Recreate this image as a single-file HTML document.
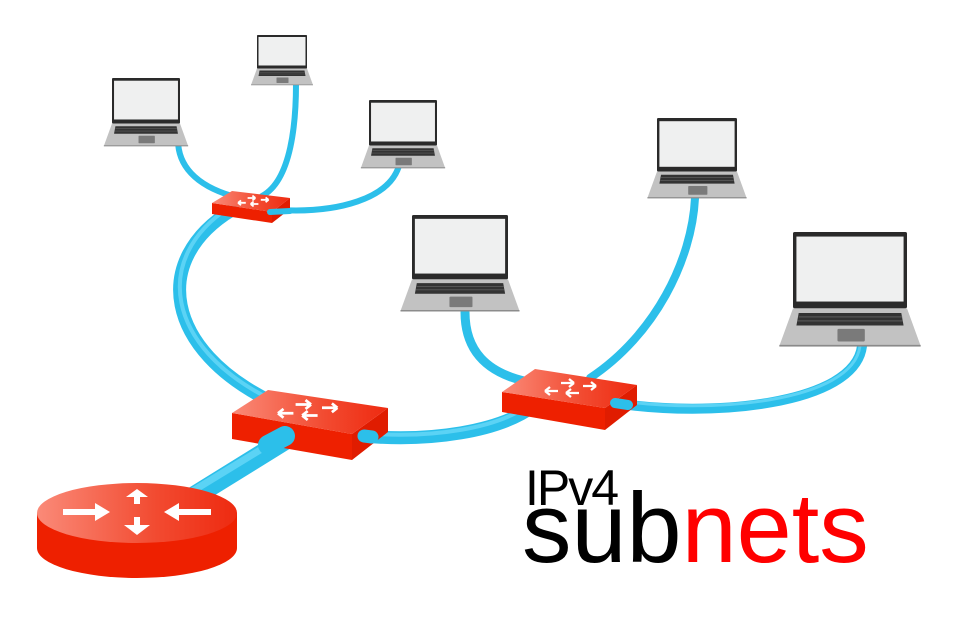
<!DOCTYPE html>
<html><head><meta charset="utf-8"><style>html,body{margin:0;padding:0;background:#fff}svg{display:block}</style></head>
<body>
<svg width="960" height="640" viewBox="0 0 960 640" xmlns="http://www.w3.org/2000/svg">
<defs>
<linearGradient id="rg" x1="0" x2="1" y1="0" y2="0"><stop offset="0" stop-color="#fa8a78"/><stop offset="0.6" stop-color="#f24a30"/><stop offset="1" stop-color="#ee2a10"/></linearGradient>
<g id="lap">
  <rect x="0" y="0" width="100" height="67" fill="#2a2a2a" rx="1.5"/>
  <rect x="3" y="4" width="94" height="57" fill="#eff0f0"/>
  <polygon points="0,67 100,67 112,100 -12,100" fill="#c2c2c2"/>
  <rect x="-12" y="99" width="124" height="1.5" fill="#8a8a8a"/>
  <polygon points="5,71 95,71 97,82 3,82" fill="#333"/>
  <g stroke="#777" stroke-width="0.6">
    <line x1="5" y1="74.5" x2="96" y2="74.5"/><line x1="4" y1="78" x2="96" y2="78"/>
  </g>
  <rect x="39" y="85" width="24" height="11" fill="#7a7a7a" rx="1"/>
</g>
</defs>

<!-- cables -->
<g fill="none" stroke-linecap="round">
  <g stroke="#2cbfea">
    <path d="M180,505 L285,440" stroke-width="20"/>
    <path d="M272,402 C165,350 150,260 232,210" stroke-width="13"/>
    <path d="M362,436 C430,442 500,432 535,405" stroke-width="13"/>
    <path d="M615,403 C710,418 855,405 862,346" stroke-width="10"/>
    <path d="M548,385 C480,378 465,345 465,312" stroke-width="9"/>
    <path d="M590,378 C655,335 692,260 695,198" stroke-width="8"/>
    <path d="M232,196 C195,185 178,165 178,140" stroke-width="6"/>
    <path d="M262,196 C292,180 296,120 296,84" stroke-width="6"/>
    <path d="M280,210 C335,213 392,200 400,162" stroke-width="6"/>
  </g>
  <g stroke="#6fdcfa" opacity="0.7">
    <path d="M178,500 L283,436" stroke-width="7"/>
    <path d="M270,399 C166,347 151,258 230,207" stroke-width="4"/>
    <path d="M362,433 C430,439 500,429 533,402" stroke-width="4"/>
    <path d="M615,400 C710,415 853,402 860,346" stroke-width="3"/>
  </g>
</g>

<!-- router -->
<path d="M37,513 L37,548 A100,30 0 0 0 237,548 L237,513 Z" fill="#ee2000"/>
<ellipse cx="137" cy="513" rx="100" ry="30" fill="url(#rg)"/>
<g fill="#fff">
  <polygon points="63,509 95,509 95,503 110,512 95,521 95,515 63,515"/>
  <polygon points="211,509 179,509 179,503 164,512 179,521 179,515 211,515"/>
  <polygon points="134,504 134,497 126,497 137,489 148,497 140,497 140,504"/>
  <polygon points="134,517 134,525 124,525 137,535 150,525 140,525 140,517"/>
</g>

<!-- switch big S2 -->
<polygon points="232,413 352,434 352,460 232,439" fill="#ee2000"/>
<polygon points="352,434 388,408 388,432 352,460" fill="#e01c00"/>
<polygon points="232,413 268,390 388,408 352,434" fill="url(#rg)"/>
<g transform="translate(300,410) scale(1.1)" fill="none" stroke="#fff" stroke-width="2.5">
  <path d="M-20,3 h14 M-20,3 l5,-4 M-20,3 l5,4"/>
  <path d="M-4,-5 h14 M10,-5 l-5,-4 M10,-5 l-5,4"/>
  <path d="M2,5 h14 M2,5 l5,-4 M2,5 l5,4"/>
  <path d="M20,-2 h14 M34,-2 l-5,-4 M34,-2 l-5,4"/>
</g>

<!-- switch S3 -->
<polygon points="502,392 605,408 605,430 502,412" fill="#ee2000"/>
<polygon points="605,408 637,385 637,405 605,430" fill="#e01c00"/>
<polygon points="502,392 535,369 637,385 605,408" fill="url(#rg)"/>
<g transform="translate(565,388)" fill="none" stroke="#fff" stroke-width="2.3">
  <path d="M-20,3 h13 M-20,3 l5,-4 M-20,3 l5,4"/>
  <path d="M-4,-5 h13 M9,-5 l-5,-4 M9,-5 l-5,4"/>
  <path d="M1,5 h13 M1,5 l5,-4 M1,5 l5,4"/>
  <path d="M18,-2 h13 M31,-2 l-5,-4 M31,-2 l-5,4"/>
</g>

<!-- switch S1 -->
<polygon points="212,203 272,212 272,223 212,214" fill="#ee2000"/>
<polygon points="272,212 290,198 290,209 272,223" fill="#e01c00"/>
<polygon points="212,203 232,191 290,198 272,212" fill="url(#rg)"/>
<g transform="translate(250,201) scale(0.6)" fill="none" stroke="#fff" stroke-width="3">
  <path d="M-20,3 h13 M-20,3 l5,-4 M-20,3 l5,4"/>
  <path d="M-4,-5 h13 M9,-5 l-5,-4 M9,-5 l-5,4"/>
  <path d="M1,5 h13 M1,5 l5,-4 M1,5 l5,4"/>
  <path d="M18,-2 h13 M31,-2 l-5,-4 M31,-2 l-5,4"/>
</g>

<!-- cable ends over switches -->
<g fill="none" stroke-linecap="round" stroke="#2cbfea">
  <path d="M268,445 L285,436" stroke-width="20"/>
  <path d="M364,436 L372,437" stroke-width="13"/>
  <path d="M615,403 L628,405" stroke-width="10"/>
  <path d="M270,212 L290,211" stroke-width="6"/>
</g>

<!-- laptops -->
<use href="#lap" transform="translate(112,78) scale(0.68)"/>
<use href="#lap" transform="translate(257,35) scale(0.5)"/>
<use href="#lap" transform="translate(369,100) scale(0.68)"/>
<use href="#lap" transform="translate(412,215) scale(0.96)"/>
<use href="#lap" transform="translate(657,118) scale(0.8)"/>
<use href="#lap" transform="translate(793,232) scale(1.14)"/>

<!-- text -->
<text x="525" y="505" font-family="Liberation Sans, sans-serif" font-size="50" fill="#000" letter-spacing="-2">IPv4</text>
<text x="522" y="562" font-family="Liberation Sans, sans-serif" font-size="99"><tspan fill="#000">sub</tspan><tspan fill="#f00">nets</tspan></text>
</svg>
</body></html>
